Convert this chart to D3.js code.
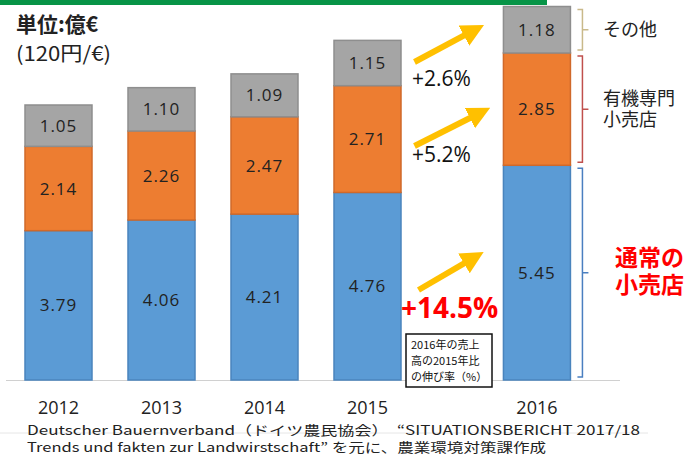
<!DOCTYPE html>
<html>
<head>
<meta charset="utf-8">
<script src="https://cdn.jsdelivr.net/npm/d3@7"></script>
<style>
  html, body { margin: 0; padding: 0; background: #fff; }
  svg { display: block; font-family: "Noto Sans CJK JP", "Noto Sans", sans-serif; }
</style>
</head>
<body>
<div id="chart"></div>
<script>
// data (億€)
var years = ["2012", "2013", "2014", "2015", "2016"];
var regular = [3.79, 4.06, 4.21, 4.76, 5.45];   // 通常の小売店
var organic = [2.14, 2.26, 2.47, 2.71, 2.85];   // 有機専門小売店
var other = [1.05, 1.10, 1.09, 1.15, 1.18];     // その他
var growth = ["+14.5%", "+5.2%", "+2.6%"];      // 2016 vs 2015, regular / organic / other
var seriesKeys = ["regular", "organic", "other"];

var width = 684, height = 455;
var baseY = 380;
var numFont = "'Open Sans', 'Noto Sans', sans-serif";

var svg = d3.select("#chart").append("svg")
    .attr("width", width)
    .attr("height", height);

// green strip on top
svg.append("rect").attr("x", 0).attr("y", 0).attr("width", 547).attr("height", 5).attr("fill", "#079447");

var rows = years.map(function (y, i) {
    return {year: y, regular: regular[i], organic: organic[i], other: other[i]};
});
var stack = d3.stack().keys(seriesKeys)(rows);

var yScale = d3.scaleLinear().domain([0, 9.48]).range([baseY, 6.5]);

// 2012-2015 evenly spaced, 2016 pushed right past the arrows
var x = d3.scaleBand().domain(years.slice(0, 4)).range([7, 419]).paddingInner(0.36).paddingOuter(0.18);
var barW = 67;
function cx(year) {
    if (year === "2016") return x("2015") + x.bandwidth() / 2 + x.step() * 1.645;
    return x(year) + x.bandwidth() / 2;
}

var fills = {regular: "#5b9bd5", organic: "#ed7d31", other: "#a5a5a5"};
var strokes = {regular: "#4a84bd", organic: "#d0692a", other: "#8e8e8e"};

// faint line under the source text
svg.append("line").attr("x1", 0).attr("x2", 648).attr("y1", 433).attr("y2", 433)
    .attr("stroke", "#e6e6e6").attr("stroke-width", 1);

// baseline
svg.append("line").attr("x1", 6).attr("x2", 620).attr("y1", baseY + 0.5).attr("y2", baseY + 0.5)
    .attr("stroke", "#d0d0d0").attr("stroke-width", 1);

var layers = svg.selectAll("g.layer").data(stack).enter().append("g").attr("class", "layer");
layers.selectAll("rect").data(function (d) { return d.map(function (p) { p.key = d.key; return p; }); })
    .enter().append("rect")
    .attr("x", function (d) { return cx(d.data.year) - barW / 2; })
    .attr("y", function (d) { return yScale(d[1]); })
    .attr("width", barW)
    .attr("height", function (d) { return yScale(d[0]) - yScale(d[1]); })
    .attr("fill", function (d) { return fills[d.key]; })
    .attr("stroke", function (d) { return strokes[d.key]; })
    .attr("stroke-width", 1.5);

layers.selectAll("text").data(function (d) { return d.map(function (p) { p.key = d.key; return p; }); })
    .enter().append("text")
    .attr("x", function (d) { return cx(d.data.year); })
    .attr("y", function (d) { return (yScale(d[0]) + yScale(d[1])) / 2; })
    .attr("dy", "0.36em")
    .attr("text-anchor", "middle")
    .attr("font-family", numFont)
    .attr("font-size", 17)
    .attr("letter-spacing", 1)
    .attr("fill", "#222")
    .text(function (d) { return (d[1] - d[0]).toFixed(2); });

// year labels
svg.selectAll("text.year").data(years).enter().append("text")
    .attr("class", "year")
    .attr("x", function (d) { return cx(d); })
    .attr("y", 408)
    .attr("dy", "0.36em")
    .attr("text-anchor", "middle")
    .attr("font-family", numFont)
    .attr("font-size", 18)
    .attr("fill", "#222")
    .text(function (d) { return d; });

// unit
svg.append("text").attr("x", 16).attr("y", 32).attr("font-size", 21).attr("font-weight", 700)
    .attr("fill", "#222").text("単位:億€");
svg.append("text").attr("x", 16).attr("y", 61).attr("font-size", 20)
    .attr("textLength", 95).attr("lengthAdjust", "spacingAndGlyphs")
    .attr("fill", "#222").text("(120円/€)");

// arrows from 2015 to 2016
var xA0 = cx("2015") + 47, xA1 = cx("2016") - 55;
var arrowSpec = [
    {key: "regular", y0: 290, y1: 253},
    {key: "organic", y0: 146, y1: 109},
    {key: "other", y0: 62, y1: 26}
];
svg.append("defs").append("marker")
    .attr("id", "head").attr("viewBox", "0 0 10 10").attr("refX", 2).attr("refY", 5)
    .attr("markerWidth", 3.8).attr("markerHeight", 4).attr("orient", "auto")
    .append("path").attr("d", "M0,0 L10,5 L0,10 Z").attr("fill", "#ffc000");
arrowSpec.forEach(function (a, i) {
    var x1 = i === 0 ? xA0 + 4 : xA0;
    var x2 = i === 1 ? xA1 + 6 : xA1;
    svg.append("line")
        .attr("x1", x1).attr("y1", a.y0)
        .attr("x2", x2 - 14).attr("y2", a.y1 + (a.y0 - a.y1) * 14 / (x2 - x1))
        .attr("stroke", "#ffc000").attr("stroke-width", 6)
        .attr("marker-end", "url(#head)");
});

svg.append("text").attr("x", 401).attr("y", 318).attr("font-size", 28).attr("font-weight", 700)
    .attr("font-family", numFont)
    .attr("fill", "#ff0000").text(growth[0]);
svg.append("text").attr("x", 412).attr("y", 162).attr("font-size", 21)
    .attr("font-family", numFont)
    .attr("fill", "#111").text(growth[1]);
svg.append("text").attr("x", 412).attr("y", 86).attr("font-size", 21)
    .attr("font-family", numFont)
    .attr("fill", "#111").text(growth[2]);

// note box
svg.append("rect").attr("x", 406).attr("y", 334).attr("width", 86).attr("height", 53)
    .attr("fill", "#fff").attr("stroke", "#111").attr("stroke-width", 1.5);
var note = svg.append("text").attr("font-size", 11).attr("fill", "#111");
["2016年の売上", "高の2015年比", "の伸び率（%）"].forEach(function (t, i) {
    note.append("tspan").attr("x", 411).attr("y", 349 + i * 16).text(t);
});

// brackets on the right of the 2016 bar
var bx = cx("2016") + barW / 2 + 7;
var brackets = [
    {key: "other", color: "#c9b98a", label: ["その他"], red: false},
    {key: "organic", color: "#c0504d", label: ["有機専門", "小売店"], red: false},
    {key: "regular", color: "#4a7fc0", label: ["通常の", "小売店"], red: true}
];
brackets.forEach(function (b) {
    var s = stack[seriesKeys.indexOf(b.key)][4];
    var top = yScale(s[1]) + 3, bot = yScale(s[0]) - 3, mid = (top + bot) / 2;
    svg.append("path")
        .attr("d", "M" + bx + "," + top + " H" + (bx + 5) + " V" + bot + " H" + bx +
            " M" + (bx + 5) + "," + mid + " H" + (bx + 11))
        .attr("fill", "none").attr("stroke", b.color).attr("stroke-width", 1.5);
    var lh = b.red ? 27 : 21;
    var y0 = b.red ? mid - 15 : mid - (b.label.length - 1) * lh / 2;
    var t = svg.append("text")
        .attr("font-size", b.red ? 23 : 18)
        .attr("font-weight", b.red ? 700 : 400)
        .attr("fill", b.red ? "#ff0000" : "#222");
    b.label.forEach(function (line, i) {
        t.append("tspan")
            .attr("x", b.red ? 615 : 603)
            .attr("y", y0 + i * lh)
            .attr("dy", "0.36em")
            .text(line);
    });
});

// source
var src = svg.append("text").attr("font-size", 13).attr("fill", "#222");
src.append("tspan").attr("x", 27).attr("y", 435)
    .attr("textLength", 613).attr("lengthAdjust", "spacingAndGlyphs")
    .text("Deutscher Bauernverband（ドイツ農民協会）　“SITUATIONSBERICHT 2017/18");
src.append("tspan").attr("x", 27).attr("y", 452)
    .attr("textLength", 519).attr("lengthAdjust", "spacingAndGlyphs")
    .text("Trends und fakten zur Landwirstschaft” を元に、農業環境対策課作成");
</script>
</body>
</html>
